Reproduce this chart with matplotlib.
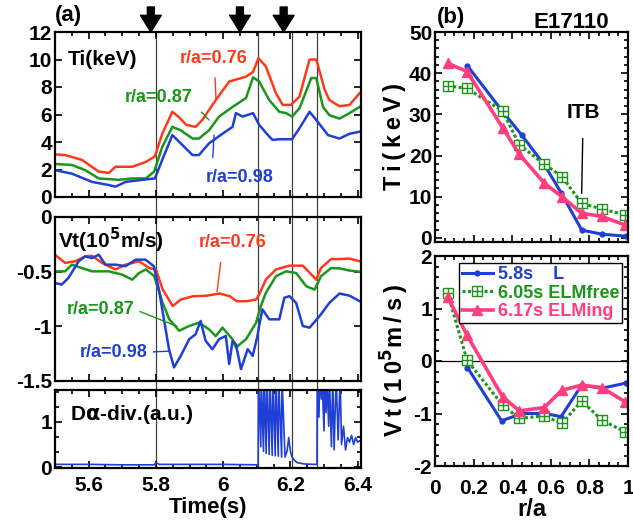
import numpy as np
import matplotlib
matplotlib.use('Agg')
import matplotlib.pyplot as plt
from matplotlib.path import Path
from matplotlib.lines import Line2D
from matplotlib.ticker import MultipleLocator, FuncFormatter
import matplotlib.transforms as mtransforms

plt.rcParams['font.family'] = ['Liberation Sans', 'DejaVu Sans']
plt.rcParams['font.weight'] = 'bold'
plt.rcParams['axes.labelweight'] = 'bold'
plt.rcParams['axes.linewidth'] = 1.6
plt.rcParams['mathtext.default'] = 'bf'

RED = '#ff3a1a'
GREEN = '#1a961a'
BLUE = '#1f3fd6'
PINK = '#ff3d7f'

# ---- (a) time traces ----
ti076_t = [5.500, 5.530, 5.580, 5.630, 5.660, 5.680, 5.730, 5.770, 5.797, 5.819,
           5.849, 5.869, 5.890, 5.918, 5.938, 5.978, 6.018, 6.068, 6.089, 6.105,
           6.127, 6.157, 6.177, 6.202, 6.227, 6.257, 6.277, 6.302, 6.316, 6.346,
           6.376, 6.406]
ti076 = [3.1, 3.05, 2.7, 1.85, 1.75, 2.2, 2.2, 2.55, 2.95, 4.6,
         6.2, 5.8, 5.25, 5.1, 5.6, 7.05, 8.4, 8.75, 9.1, 10.1,
         9.5, 7.55, 6.7, 6.7, 7.3, 10.0, 10.0, 7.8, 7.05, 6.6,
         6.7, 7.55]

ti087_t = [5.500, 5.550, 5.590, 5.630, 5.690, 5.730, 5.770, 5.795, 5.819, 5.849,
           5.874, 5.909, 5.928, 5.958, 5.988, 6.028, 6.068, 6.089, 6.107, 6.137,
           6.167, 6.187, 6.205, 6.227, 6.262, 6.277, 6.297, 6.316, 6.346, 6.376,
           6.406]
ti087 = [2.4, 2.33, 1.95, 1.35, 1.25, 1.35, 1.35, 1.85, 3.65, 5.1,
         4.85, 4.25, 4.25, 4.85, 5.85, 6.55, 7.2, 8.7, 8.4, 7.05,
         6.2, 6.1, 5.85, 6.45, 8.65, 8.65, 6.55, 5.95, 5.7, 6.1,
         6.55]

ti098_t = [5.500, 5.550, 5.610, 5.660, 5.680, 5.710, 5.760, 5.797, 5.819, 5.849,
           5.874, 5.909, 5.928, 5.958, 5.998, 6.028, 6.038, 6.058, 6.089, 6.107,
           6.137, 6.147, 6.167, 6.205, 6.227, 6.257, 6.277, 6.312, 6.346, 6.376,
           6.406]
ti098 = [1.95, 1.7, 1.1, 0.87, 0.75, 1.1, 1.25, 1.35, 2.7, 4.5,
         3.9, 3.05, 3.05, 3.9, 4.6, 5.1, 6.1, 5.85, 6.1, 5.25,
         4.4, 4.15, 4.2, 4.2, 5.0, 6.2, 5.6, 4.5, 4.25, 4.6,
         4.75]

vt076_t = [5.500, 5.530, 5.560, 5.590, 5.610, 5.640, 5.680, 5.710, 5.750, 5.780,
           5.800, 5.820, 5.850, 5.874, 5.910, 5.950, 5.990, 6.020, 6.040, 6.070,
           6.098, 6.107, 6.127, 6.157, 6.197, 6.237, 6.277, 6.291, 6.321, 6.346,
           6.376, 6.406]
vt076 = [-0.345, -0.42, -0.405, -0.36, -0.355, -0.42, -0.48, -0.436, -0.405, -0.467,
         -0.48, -0.66, -0.815, -0.755, -0.725, -0.72, -0.70, -0.725, -0.77, -0.77,
         -0.755, -0.71, -0.573, -0.48, -0.445, -0.445, -0.573, -0.467, -0.385, -0.385,
         -0.38, -0.405]

vt087_t = [5.500, 5.530, 5.550, 5.580, 5.610, 5.660, 5.700, 5.730, 5.750, 5.770,
           5.795, 5.820, 5.840, 5.869, 5.899, 5.928, 5.958, 5.978, 5.998, 6.028,
           6.038, 6.068, 6.098, 6.112, 6.127, 6.157, 6.187, 6.217, 6.247, 6.272,
           6.291, 6.321, 6.346, 6.376, 6.406]
vt087 = [-0.497, -0.497, -0.436, -0.467, -0.497, -0.497, -0.527, -0.573, -0.512, -0.48,
         -0.54, -0.785, -0.936, -1.04, -0.997, -0.967, -1.027, -1.09, -1.012, -1.118,
         -1.194, -1.118, -0.967, -0.815, -0.694, -0.542, -0.497, -0.512, -0.633, -0.664,
         -0.542, -0.467, -0.47, -0.49, -0.50]

vt098_t = [5.500, 5.520, 5.540, 5.570, 5.590, 5.610, 5.630, 5.650, 5.680, 5.710,
           5.740, 5.769, 5.794, 5.809, 5.829, 5.839, 5.854, 5.874, 5.899, 5.918,
           5.933, 5.948, 5.968, 5.988, 6.008, 6.018, 6.028, 6.038, 6.053, 6.073,
           6.088, 6.102, 6.107, 6.117, 6.137, 6.167, 6.182, 6.197, 6.217, 6.237,
           6.257, 6.287, 6.316, 6.346, 6.376, 6.406]
vt098 = [-0.603, -0.618, -0.557, -0.406, -0.36, -0.376, -0.345, -0.436, -0.436, -0.45,
         -0.39, -0.39, -0.45, -0.664, -1.027, -1.209, -1.376, -1.27, -1.118, -1.073,
         -0.951, -1.133, -1.209, -1.118, -1.088, -1.345, -1.133, -1.164, -1.391, -1.209,
         -1.27, -1.088, -0.997, -0.845, -0.936, -0.936, -0.739, -0.724, -0.785, -0.997,
         -1.012, -0.906, -0.785, -0.70, -0.72, -0.77]

da_t = [5.50, 5.60, 5.70, 5.78, 5.795, 5.80, 5.81, 5.90, 6.00, 6.10, 6.104,
        6.105, 6.112, 6.113, 6.120, 6.121, 6.128, 6.129, 6.137, 6.138, 6.146,
        6.147, 6.155, 6.156, 6.164, 6.165, 6.174, 6.175, 6.184, 6.190, 6.195,
        6.200, 6.205, 6.212, 6.220, 6.240, 6.270, 6.279,
        6.280, 6.285, 6.287, 6.292, 6.294, 6.300, 6.302, 6.306, 6.308, 6.314,
        6.316, 6.322, 6.326, 6.330, 6.336, 6.342, 6.348, 6.352, 6.358, 6.364,
        6.370, 6.376, 6.382, 6.388, 6.394, 6.400, 6.41]
da = [0.06, 0.06, 0.05, 0.05, 0.05, 0.10, 0.06, 0.06, 0.06, 0.05, 0.05,
      2.0, 0.45, 2.0, 0.35, 2.0, 0.3, 2.0, 0.28, 2.0, 0.26,
      2.0, 0.25, 2.0, 0.24, 2.0, 0.22, 2.0, 0.22, 0.35, 0.65,
      0.35, 0.22, 0.15, 0.10, 0.07, 0.06, 0.06,
      2.0, 1.1, 2.0, 1.5, 2.0, 0.8, 2.0, 1.2, 2.0, 0.9,
      2.0, 0.45, 2.0, 0.38, 2.0, 0.6, 2.0, 0.5, 0.9, 0.38,
      0.65, 0.55, 0.7, 0.5, 0.65, 0.55, 0.6]

event_times = [5.80, 6.105, 6.205, 6.28]
arrow_times = [5.785, 6.05, 6.18]

# ---- (b) profiles ----
r_L = [0.168, 0.345, 0.449, 0.57, 0.653, 0.76, 0.864, 0.99]
ti_L = [41.8, 31.0, 25.0, 17.5, 11.0, 1.9, 0.9, 0.4]
vt_L = [-0.124, -1.14, -1.0, -1.0, -1.06, -0.46, -0.52, -0.42]

r_E = [0.066, 0.166, 0.35, 0.437, 0.566, 0.657, 0.76, 0.864, 0.986]
ti_free = [36.9, 36.3, 30.8, 22.6, 17.9, 14.9, 8.4, 7.0, 5.6]
vt_free = [1.29, 0.016, -0.84, -1.095, -1.044, -1.19, -0.76, -1.127, -1.35]
ti_elm = [42.4, 40.4, 26.8, 20.3, 13.3, 10.0, 6.0, 5.2, 3.1]
vt_elm = [1.22, 0.49, -0.68, -0.95, -0.886, -0.556, -0.46, -0.505, -0.78]

W, H = 633, 525
fig = plt.figure(figsize=(W / 100, H / 100), dpi=100)


def box(x0, y0, x1, y1):
    return [x0 / W, 1 - y1 / H, (x1 - x0) / W, (y1 - y0) / H]


fmt = FuncFormatter(lambda v, p: '%g' % v)


def style(ax, size=15):
    ax.set_facecolor('none')
    ax.tick_params(which='both', direction='in', top=True, right=True,
                   labelsize=size, width=1.2, pad=2)
    ax.tick_params(which='major', length=5)
    ax.tick_params(which='minor', length=3)
    ax.yaxis.set_major_formatter(fmt)
    ax.xaxis.set_major_formatter(fmt)


ax1 = fig.add_axes(box(55, 32, 361, 197))
ax2 = fig.add_axes(box(55, 217, 361, 381))
ax3 = fig.add_axes(box(55, 390, 361, 468))
ax4 = fig.add_axes(box(435, 32, 628, 242))
ax5 = fig.add_axes(box(435, 256, 628, 466))

for ax in (ax1, ax2, ax3):
    style(ax)
    ax.set_xlim(5.5, 6.41)
    ax.xaxis.set_major_locator(MultipleLocator(0.2))
    ax.xaxis.set_minor_locator(MultipleLocator(0.05))

ax1.plot(ti076_t, ti076, color=RED, lw=1.8)
ax1.plot(ti087_t, ti087, color=GREEN, lw=1.8)
ax1.plot(ti098_t, ti098, color=BLUE, lw=1.8)
ax1.set_ylim(0, 12)
ax1.yaxis.set_major_locator(MultipleLocator(2))
ax1.tick_params(labelbottom=False)
ax1.text(0.042, 0.836, 'Ti(keV)', transform=ax1.transAxes, fontsize=15,
         va='center', ha='left')
ax1.annotate('r/a=0.76', xy=(5.979, 7.05), xytext=(5.973, 10.1), color=RED,
             fontsize=13, ha='center', va='center',
             arrowprops=dict(arrowstyle='-', color=RED, lw=1, shrinkA=6, shrinkB=0))
ax1.annotate('r/a=0.87', xy=(5.958, 5.6), xytext=(5.809, 7.2), color=GREEN,
             fontsize=13, ha='center', va='center',
             arrowprops=dict(arrowstyle='-', color=GREEN, lw=1, shrinkA=6, shrinkB=0,
                             relpos=(1, 0.2)))
ax1.annotate('r/a=0.98', xy=(5.973, 4.5), xytext=(6.048, 1.45), color=BLUE,
             fontsize=13, ha='center', va='center',
             arrowprops=dict(arrowstyle='-', color=BLUE, lw=1, shrinkA=6, shrinkB=0,
                             relpos=(0.1, 1)))

for t in arrow_times:
    ax1.annotate('', xy=(t, 12), xytext=(0, 25), textcoords='offset pixels',
                 annotation_clip=False,
                 arrowprops=dict(facecolor='black', edgecolor='black', width=5,
                                 headwidth=15, headlength=12, shrink=0))

ax2.plot(vt076_t, vt076, color=RED, lw=1.8)
ax2.plot(vt087_t, vt087, color=GREEN, lw=1.8)
ax2.plot(vt098_t, vt098, color=BLUE, lw=1.8)
ax2.set_ylim(-1.5, 0)
ax2.yaxis.set_major_locator(MultipleLocator(0.5))
ax2.tick_params(labelbottom=False)
ax2.text(0.01, 0.86, r'Vt(10$^{5}$m/s)', transform=ax2.transAxes, fontsize=15,
         va='center', ha='left')
ax2.annotate('r/a=0.76', xy=(5.982, -0.682), xytext=(6.027, -0.236), color=RED,
             fontsize=13, ha='center', va='center',
             arrowprops=dict(arrowstyle='-', color=RED, lw=1, shrinkA=6, shrinkB=0,
                             relpos=(0.35, 0)))
ax2.annotate('r/a=0.87', xy=(5.863, -1.0), xytext=(5.636, -0.845), color=GREEN,
             fontsize=13, ha='center', va='center',
             arrowprops=dict(arrowstyle='-', color=GREEN, lw=1, shrinkA=2, shrinkB=0,
                             relpos=(1, 0.5)))
ax2.annotate('r/a=0.98', xy=(5.839, -1.227), xytext=(5.675, -1.236), color=BLUE,
             fontsize=13, ha='center', va='center',
             arrowprops=dict(arrowstyle='-', color=BLUE, lw=1, shrinkA=2, shrinkB=0,
                             relpos=(1, 0.5)))

ax3.plot(da_t, da, color=BLUE, lw=1.2)
ax3.set_ylim(-0.02, 1.7)
ax3.yaxis.set_major_locator(MultipleLocator(1))
ax3.yaxis.set_minor_locator(MultipleLocator(1 / 3))
ax3.tick_params(axis='x', pad=6)
ax3.text(0.049, 0.68, r'D$\alpha$-div.(a.u.)', transform=ax3.transAxes,
         fontsize=15, va='center', ha='left')
ax3.set_xlabel('Time(s)', fontsize=16, labelpad=1)

# event lines through the three stacked panels
y_bot = 1 - 468 / H
y_top = 1 - 32 / H
trans = mtransforms.blended_transform_factory(ax1.transData, fig.transFigure)
for t in event_times:
    fig.add_artist(Line2D([t, t], [y_bot, y_top], transform=trans,
                          color='0.25', lw=0.9, zorder=0))

# ---- right panels ----
sq_verts = [(-1, -1), (1, -1), (1, 1), (-1, 1), (-1, -1),
            (0, -1), (0, 1), (-1, 0), (1, 0)]
sq_codes = [Path.MOVETO, Path.LINETO, Path.LINETO, Path.LINETO, Path.CLOSEPOLY,
            Path.MOVETO, Path.LINETO, Path.MOVETO, Path.LINETO]
sq_marker = Path(sq_verts, sq_codes)

for ax in (ax4, ax5):
    style(ax, 15)
    ax.set_xlim(0, 1)
    ax.xaxis.set_major_locator(MultipleLocator(0.2))
    ax.xaxis.set_minor_locator(MultipleLocator(0.05))

ax4.plot(r_L, ti_L, color=BLUE, lw=2.2, marker='o', ms=3.5)
ax4.plot(r_E, ti_free, color=GREEN, lw=2.2, ls=(0, (1, 0.8)), marker=sq_marker,
         ms=7, mfc='white', mec=GREEN, mew=1)
ax4.plot(r_E, ti_elm, color=PINK, lw=2.6, marker='^', ms=7)
ax4.set_ylim(-1, 50)
ax4.yaxis.set_major_locator(MultipleLocator(10))
ax4.yaxis.set_minor_locator(MultipleLocator(2))
ax4.tick_params(labelbottom=False)
ts = '\u2009'
ax4.set_ylabel(ts.join('Ti(keV)'), fontsize=17, labelpad=2)
ax4.annotate('ITB', xy=(0.76, 10.8), xytext=(0.768, 30.5), fontsize=15,
             ha='center', va='center',
             arrowprops=dict(arrowstyle='-', color='black', lw=1, shrinkA=10, shrinkB=0))

ax5.axhline(0, color='black', lw=0.9)
ax5.plot(r_L, vt_L, color=BLUE, lw=2.2, marker='o', ms=3.5, label='5.8s    L')
ax5.plot(r_E, vt_free, color=GREEN, lw=2.2, ls=(0, (1, 0.8)), marker=sq_marker,
         ms=7, mfc='white', mec=GREEN, mew=1, label='6.05s ELMfree')
ax5.plot(r_E, vt_elm, color=PINK, lw=2.6, marker='^', ms=7, label='6.17s ELMing')
ax5.set_ylim(-2, 2)
ax5.yaxis.set_major_locator(MultipleLocator(1))
ax5.yaxis.set_minor_locator(MultipleLocator(0.2))
ax5.tick_params(axis='x', pad=9)
ax5.set_ylabel(ts.join('Vt(10') + r'$^{5}$' + ts.join('m/s)'), fontsize=17,
               labelpad=2)
ax5.set_xlabel('r/a', fontsize=17, labelpad=0)
leg = ax5.legend(loc='upper right', bbox_to_anchor=(0.97, 0.966), borderaxespad=0,
                 fontsize=13, labelcolor='linecolor', fancybox=False,
                 edgecolor='black', framealpha=1, handlelength=1.7,
                 handletextpad=0.3, borderpad=0.15, labelspacing=0.1)
leg.get_frame().set_linewidth(1)

fig.text(55 / W, 1 - 15 / H, '(a)', fontsize=16, va='center', ha='left')
fig.text(437 / W, 1 - 17 / H, '(b)', fontsize=16, va='center', ha='left')
fig.text(571 / W, 1 - 23 / H, 'E17110', fontsize=16, va='center', ha='center')

fig.savefig('out.png', dpi=100)
